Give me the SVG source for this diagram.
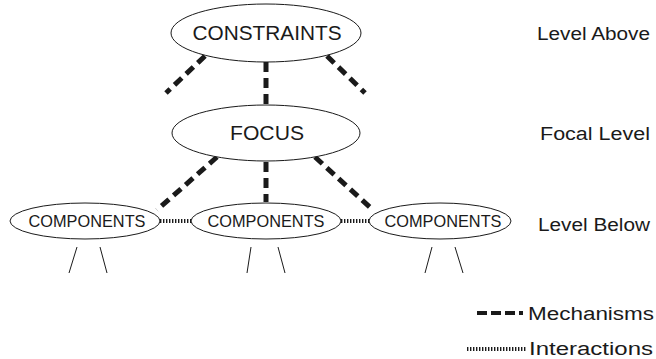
<svg xmlns="http://www.w3.org/2000/svg" width="656" height="359" viewBox="0 0 656 359">
<style>
.node{fill:#fff;stroke:#1a1a1a;stroke-width:1}
.t{font-family:"Liberation Sans",Arial,sans-serif;fill:#1a1a1a}
.mech{stroke:#1a1a1a;stroke-width:5;stroke-dasharray:10 6;fill:none}
.inter{stroke:#1a1a1a;stroke-width:4;stroke-dasharray:1.4 1.6;fill:none}
.leg{stroke:#1a1a1a;stroke-width:1;fill:none}
</style>
<rect width="656" height="359" fill="#fff"/>
<g id="connectors">
<line class="mech" x1="205" y1="56" x2="166" y2="93"/>
<line class="mech" x1="266" y1="62" x2="266" y2="104"/>
<line class="mech" x1="327" y1="56" x2="365" y2="93"/>
<line class="mech" x1="217" y1="157" x2="157" y2="210"/>
<line class="mech" x1="266" y1="162" x2="266" y2="202"/>
<line class="mech" x1="315" y1="157" x2="374" y2="211"/>
<line class="inter" x1="160" y1="221" x2="191" y2="221"/>
<line class="inter" x1="341" y1="221" x2="369" y2="221"/>
<line class="leg" x1="77" y1="247" x2="69" y2="273"/>
<line class="leg" x1="100" y1="247" x2="107" y2="273"/>
<line class="leg" x1="251" y1="247" x2="247" y2="273"/>
<line class="leg" x1="278" y1="247" x2="285" y2="273"/>
<line class="leg" x1="432" y1="247" x2="425" y2="273"/>
<line class="leg" x1="455" y1="247" x2="463" y2="273"/>
</g>
<g id="constraints">
<ellipse class="node" cx="266" cy="33" rx="95" ry="29"/>
<text class="t" x="267" y="40" font-size="21" text-anchor="middle" textLength="149" lengthAdjust="spacingAndGlyphs">CONSTRAINTS</text>
</g>
<g id="focus">
<ellipse class="node" cx="266" cy="133" rx="94" ry="28"/>
<text class="t" x="267" y="140" font-size="21" text-anchor="middle" textLength="74" lengthAdjust="spacingAndGlyphs">FOCUS</text>
</g>
<g id="components-left">
<ellipse class="node" cx="85" cy="221" rx="75" ry="18"/>
<text class="t" x="87" y="227" font-size="17" text-anchor="middle" textLength="117" lengthAdjust="spacingAndGlyphs">COMPONENTS</text>
</g>
<g id="components-mid">
<ellipse class="node" cx="266" cy="221" rx="75" ry="18"/>
<text class="t" x="266" y="227" font-size="17" text-anchor="middle" textLength="117" lengthAdjust="spacingAndGlyphs">COMPONENTS</text>
</g>
<g id="components-right">
<ellipse class="node" cx="440" cy="221" rx="71" ry="18"/>
<text class="t" x="443" y="227" font-size="17" text-anchor="middle" textLength="117" lengthAdjust="spacingAndGlyphs">COMPONENTS</text>
</g>
<g id="labels">
<text class="t" x="537" y="40" font-size="18" textLength="113" lengthAdjust="spacingAndGlyphs">Level Above</text>
<text class="t" x="540" y="140" font-size="18" textLength="110" lengthAdjust="spacingAndGlyphs">Focal Level</text>
<text class="t" x="538" y="231" font-size="18" textLength="112" lengthAdjust="spacingAndGlyphs">Level Below</text>
</g>
<g id="legend">
<line x1="477" y1="313" x2="523" y2="313" stroke="#1a1a1a" stroke-width="4" stroke-dasharray="10 4"/>
<text class="t" x="528" y="320" font-size="18" textLength="126" lengthAdjust="spacingAndGlyphs">Mechanisms</text>
<line class="inter" x1="467" y1="349" x2="527" y2="349"/>
<text class="t" x="529" y="355" font-size="18" textLength="124" lengthAdjust="spacingAndGlyphs">Interactions</text>
</g>
</svg>
